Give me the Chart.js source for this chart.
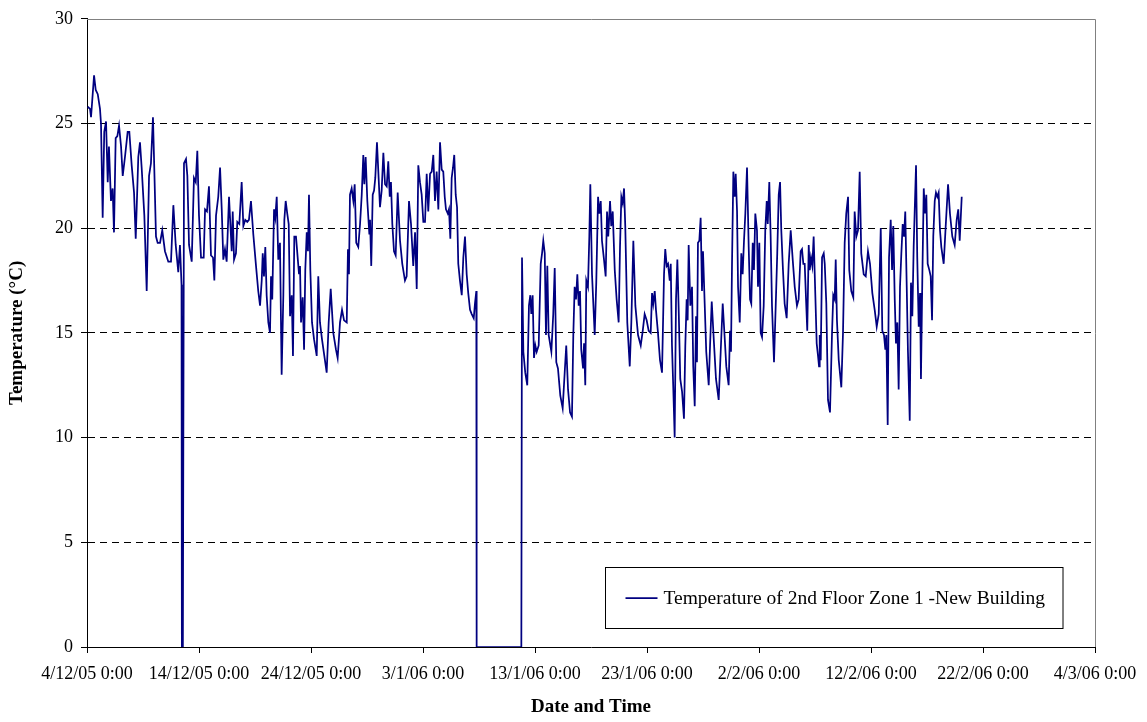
<!DOCTYPE html>
<html>
<head>
<meta charset="utf-8">
<title>Temperature of 2nd Floor Zone 1</title>
<script src="https://cdn.jsdelivr.net/npm/chart.js@4/dist/chart.umd.min.js"></script>
<style>
  html, body { margin: 0; padding: 0; background: #fff; }
  #wrap { width: 1147px; height: 722px; }
</style>
</head>
<body>
<div id="wrap"><canvas id="myChart" width="1147" height="722"></canvas></div>
<script>
/// Data

// x tick labels, one every 10 days from 4/12/05 0:00
const xTickLabels = [
  "4/12/05 0:00",
  "14/12/05 0:00",
  "24/12/05 0:00",
  "3/1/06 0:00",
  "13/1/06 0:00",
  "23/1/06 0:00",
  "2/2/06 0:00",
  "12/2/06 0:00",
  "22/2/06 0:00",
  "4/3/06 0:00",
];

const seriesLabel = "Temperature of 2nd Floor Zone 1 -New Building";

// days since 4/12/05 0:00
const days = [
  0.06, 0.27, 0.36, 0.63, 0.78, 0.96, 1.16, 1.25, 1.40, 1.54,
  1.70, 1.85, 1.96, 2.14, 2.29, 2.41, 2.56, 2.71, 2.86, 3.04,
  3.19, 3.39, 3.63, 3.78, 3.99, 4.20, 4.35, 4.58, 4.73, 4.88,
  5.12, 5.33, 5.54, 5.71, 5.89, 6.01, 6.16, 6.31, 6.52, 6.72,
  6.96, 7.26, 7.50, 7.71, 7.92, 8.15, 8.30, 8.44, 8.47, 8.56,
  8.66, 8.84, 8.96, 9.11, 9.35, 9.55, 9.71, 9.85, 10.00, 10.18,
  10.42, 10.54, 10.71, 10.89, 11.07, 11.25, 11.37, 11.52, 11.72, 11.88,
  12.03, 12.17, 12.32, 12.47, 12.68, 12.92, 13.01, 13.13, 13.30, 13.42,
  13.60, 13.81, 13.96, 14.13, 14.31, 14.46, 14.64, 14.85, 15.09, 15.29,
  15.45, 15.60, 15.69, 15.80, 15.92, 16.04, 16.19, 16.34, 16.43, 16.54,
  16.70, 16.81, 16.94, 17.08, 17.23, 17.38, 17.53, 17.62, 17.74, 17.88,
  18.01, 18.13, 18.28, 18.39, 18.51, 18.66, 18.78, 18.93, 19.02, 19.11,
  19.26, 19.38, 19.49, 19.62, 19.73, 19.82, 19.94, 20.09, 20.27, 20.51,
  20.65, 20.80, 20.98, 21.19, 21.40, 21.58, 21.76, 21.99, 22.23, 22.38,
  22.59, 22.77, 22.95, 23.19, 23.30, 23.39, 23.48, 23.63, 23.78, 23.90,
  24.04, 24.22, 24.38, 24.53, 24.67, 24.76, 24.88, 25.03, 25.21, 25.27,
  25.38, 25.51, 25.63, 25.74, 25.89, 26.16, 26.31, 26.46, 26.61, 26.76,
  26.90, 27.03, 27.14, 27.26, 27.41, 27.56, 27.74, 27.95, 28.15, 28.39,
  28.54, 28.75, 28.93, 29.13, 29.29, 29.44, 29.58, 29.73, 29.88, 30.03,
  30.18, 30.33, 30.47, 30.63, 30.78, 30.92, 31.07, 31.22, 31.37, 31.52,
  31.67, 31.81, 31.94, 32.05, 32.21, 32.32, 32.44, 32.56, 32.68, 32.79,
  32.92, 33.04, 33.15, 33.30, 33.46, 33.60, 33.75, 33.90, 34.04, 34.20,
  34.35, 34.53, 34.64, 34.76, 34.79, 38.78, 38.84, 38.96, 39.13, 39.31,
  39.46, 39.58, 39.67, 39.79, 39.91, 40.03, 40.15, 40.33, 40.51, 40.63,
  40.74, 40.87, 40.98, 41.10, 41.22, 41.46, 41.63, 41.76, 41.90, 42.05,
  42.26, 42.47, 42.65, 42.79, 42.95, 43.13, 43.30, 43.42, 43.54, 43.66,
  43.78, 43.90, 44.02, 44.13, 44.29, 44.38, 44.49, 44.58, 44.73, 44.85,
  44.94, 45.09, 45.33, 45.47, 45.63, 45.74, 45.87, 45.98, 46.16, 46.31,
  46.43, 46.54, 46.70, 46.81, 46.94, 47.12, 47.29, 47.47, 47.59, 47.71,
  47.83, 47.95, 48.06, 48.24, 48.46, 48.60, 48.78, 48.96, 49.20, 49.44,
  49.62, 49.79, 49.97, 50.15, 50.33, 50.45, 50.56, 50.69, 50.80, 50.98,
  51.16, 51.34, 51.52, 51.63, 51.76, 51.88, 52.03, 52.12, 52.23, 52.35,
  52.47, 52.59, 52.71, 52.83, 52.97, 53.13, 53.30, 53.42, 53.54, 53.63,
  53.72, 53.87, 54.02, 54.13, 54.26, 54.38, 54.46, 54.55, 54.67, 54.79,
  54.91, 55.00, 55.15, 55.29, 55.51, 55.63, 55.78, 55.96, 56.16, 56.40,
  56.58, 56.76, 56.90, 57.08, 57.29, 57.41, 57.50, 57.59, 57.71, 57.83,
  57.92, 58.04, 58.13, 58.28, 58.42, 58.54, 58.66, 58.78, 58.93, 59.08,
  59.20, 59.31, 59.44, 59.55, 59.67, 59.82, 59.91, 60.03, 60.15, 60.27,
  60.42, 60.56, 60.69, 60.78, 60.92, 61.04, 61.16, 61.34, 61.52, 61.63,
  61.76, 61.88, 61.99, 62.14, 62.29, 62.47, 62.65, 62.83, 63.01, 63.19,
  63.39, 63.54, 63.72, 63.84, 63.96, 64.08, 64.20, 64.31, 64.44, 64.53,
  64.64, 64.76, 64.88, 65.03, 65.15, 65.27, 65.36, 65.42, 65.51, 65.63,
  65.78, 65.87, 66.01, 66.16, 66.34, 66.52, 66.63, 66.76, 66.85, 66.96,
  67.12, 67.35, 67.50, 67.65, 67.79, 67.95, 68.06, 68.24, 68.42, 68.54,
  68.69, 68.84, 68.99, 69.13, 69.35, 69.53, 69.73, 69.91, 70.12, 70.33,
  70.51, 70.69, 70.87, 71.01, 71.16, 71.28, 71.37, 71.49, 71.61, 71.76,
  71.88, 71.99, 72.12, 72.23, 72.35, 72.47, 72.59, 72.71, 72.83, 72.95,
  73.06, 73.19, 73.30, 73.46, 73.57, 73.69, 73.81, 73.90, 74.02, 74.13,
  74.26, 74.38, 74.46, 74.58, 74.71, 74.82, 74.94, 75.06, 75.21, 75.33,
  75.45, 75.56, 75.69, 75.80, 75.92, 76.04, 76.16, 76.28, 76.49, 76.67,
  76.88, 77.05, 77.26, 77.47, 77.65, 77.79, 77.92, 78.10,
];

// temperature (oC), same order as days
const temps = [
  25.8, 25.7, 25.3, 27.3, 26.6, 26.4, 25.7, 25.0, 20.5, 24.6,
  25.1, 22.2, 23.9, 21.3, 21.9, 19.8, 24.3, 24.4, 24.9, 23.9,
  22.5, 23.4, 24.6, 24.6, 23.0, 21.7, 19.5, 23.4, 24.1, 22.9,
  20.6, 17.0, 22.5, 23.1, 25.3, 22.8, 19.6, 19.3, 19.3, 19.9,
  18.9, 18.4, 18.4, 21.1, 19.2, 17.9, 19.2, 17.3, 0, 0,
  23.1, 23.3, 22.5, 19.2, 18.4, 22.4, 22.2, 23.7, 20.6, 18.6,
  18.6, 20.9, 20.8, 22.0, 18.7, 18.6, 17.5, 20.6, 21.5, 22.9,
  20.9, 18.5, 19.0, 18.4, 21.5, 18.9, 20.8, 18.5, 18.8, 20.3,
  20.2, 22.2, 20.1, 20.4, 20.3, 20.4, 21.3, 19.7, 18.2, 17.0,
  16.3, 17.5, 18.8, 17.7, 19.1, 16.8, 15.5, 15.0, 17.7, 16.6,
  20.9, 20.5, 21.5, 18.5, 19.3, 13.0, 16.8, 20.4, 21.3, 20.7,
  20.2, 15.8, 16.8, 13.9, 19.6, 19.6, 18.8, 17.8, 18.2, 15.5,
  16.7, 14.2, 18.0, 19.8, 18.9, 21.6, 18.0, 15.5, 14.7, 13.9,
  17.7, 15.5, 14.7, 13.9, 13.1, 15.5, 17.1, 15.0, 14.2, 13.8,
  15.5, 16.1, 15.6, 15.5, 19.0, 17.8, 21.6, 21.9, 21.3, 22.1,
  19.3, 19.1, 20.2, 21.6, 23.5, 22.1, 23.4, 21.3, 19.7, 20.4,
  18.2, 21.6, 21.8, 22.4, 24.1, 21.0, 21.8, 23.6, 22.1, 22.0,
  23.2, 21.5, 22.2, 20.2, 18.9, 18.7, 21.7, 19.4, 18.3, 17.5,
  17.7, 21.3, 20.2, 18.2, 19.8, 17.1, 23.0, 22.2, 21.6, 20.3,
  20.3, 22.6, 20.8, 22.6, 22.7, 23.5, 21.3, 22.7, 20.9, 24.1,
  22.8, 22.7, 21.5, 20.9, 20.7, 20.9, 19.5, 22.4, 22.9, 23.5,
  21.6, 21.0, 18.3, 17.5, 16.8, 18.6, 19.6, 17.8, 16.9, 16.1,
  15.9, 15.7, 16.4, 17.0, 0, 0, 18.6, 14.1, 13.1, 12.5,
  16.3, 16.8, 15.9, 16.8, 13.8, 14.4, 14.1, 14.4, 18.3, 18.8,
  19.4, 18.8, 14.9, 18.2, 14.9, 14.1, 15.9, 18.1, 13.6, 13.3,
  12.0, 11.4, 13.1, 14.4, 12.3, 11.2, 11.0, 14.9, 17.2, 16.6,
  17.8, 16.3, 17.0, 14.2, 13.3, 14.5, 12.5, 17.5, 17.2, 19.6,
  22.1, 17.8, 14.9, 17.4, 21.5, 20.7, 21.3, 19.4, 18.5, 17.7,
  20.8, 19.6, 21.3, 20.1, 20.8, 18.0, 16.6, 15.5, 19.1, 21.5,
  21.2, 21.9, 20.1, 15.5, 13.4, 15.5, 19.4, 16.3, 14.9, 14.4,
  15.1, 15.9, 15.6, 15.1, 15.0, 16.9, 16.4, 17.0, 16.1, 15.0,
  13.7, 13.1, 17.8, 19.0, 18.2, 18.3, 17.5, 18.3, 14.4, 12.3,
  10.0, 16.6, 18.5, 16.1, 12.8, 12.2, 10.9, 14.4, 16.6, 15.6,
  19.2, 16.3, 17.2, 13.4, 11.5, 15.8, 13.6, 19.3, 19.4, 20.5,
  17.0, 18.9, 16.4, 14.1, 12.5, 14.4, 16.5, 14.7, 12.8, 11.8,
  14.1, 16.4, 15.1, 13.4, 12.5, 15.1, 14.1, 18.3, 22.7, 21.5,
  22.6, 20.8, 17.2, 15.5, 18.8, 17.8, 19.4, 20.7, 22.9, 19.1,
  16.6, 16.4, 19.3, 18.0, 20.7, 19.9, 17.2, 19.3, 15.0, 14.8,
  16.3, 19.9, 21.3, 20.2, 22.2, 19.6, 16.3, 13.6, 16.8, 18.8,
  21.6, 22.2, 19.9, 18.0, 16.4, 15.7, 18.3, 19.9, 18.5, 17.2,
  16.3, 16.6, 18.9, 19.0, 18.3, 18.3, 16.6, 15.1, 19.2, 18.0,
  18.6, 18.2, 19.6, 16.8, 14.5, 13.9, 13.4, 14.9, 13.7, 18.6,
  18.8, 18.3, 16.4, 11.8, 11.2, 15.0, 16.8, 16.6, 18.5, 15.6,
  13.7, 12.4, 15.0, 19.3, 20.7, 21.5, 18.0, 17.0, 16.7, 20.8,
  19.6, 19.9, 22.7, 18.8, 17.8, 17.7, 18.9, 18.3, 16.9, 16.1,
  15.3, 15.9, 20.0, 15.1, 14.9, 14.2, 14.9, 10.6, 18.6, 20.4,
  18.0, 20.1, 16.6, 14.5, 15.5, 12.3, 17.2, 18.8, 20.2, 19.6,
  20.8, 17.2, 14.1, 10.8, 17.4, 15.8, 19.1, 20.8, 23.0, 18.6,
  15.3, 16.9, 12.8, 17.5, 21.9, 20.7, 21.6, 18.3, 18.0, 17.7,
  15.6, 19.6, 21.3, 21.7, 21.5, 21.7, 19.9, 19.1, 18.3, 20.1,
  22.1, 20.7, 19.6, 19.2, 20.4, 20.9, 19.4, 21.5,
];

if (days.length !== temps.length) {
  console.error("days/temps length mismatch", days.length, temps.length);
}

const points = days.map((d, i) => ({ x: d, y: temps[i] }));

const serif = "'Liberation Serif', 'Times New Roman', serif";
const lineColor = "#000080";

// grey frame on top + right, legend box inside plot
const framePlugin = {
  id: "frame",
  beforeDatasetsDraw(chart) {
    const { ctx, chartArea: a } = chart;
    ctx.save();
    ctx.strokeStyle = "#808080";
    ctx.lineWidth = 1;
    ctx.beginPath();
    ctx.moveTo(a.left, Math.round(a.top) + 0.5);
    ctx.lineTo(Math.round(a.right) + 0.5, Math.round(a.top) + 0.5);
    ctx.lineTo(Math.round(a.right) + 0.5, a.bottom);
    ctx.stroke();
    ctx.restore();
  },
  afterDraw(chart) {
    const { ctx, chartArea: a } = chart;
    const left = Math.round(a.left + 518) + 0.5;
    const top = Math.round(a.bottom - 80) + 0.5;
    const h = 61;
    ctx.save();
    ctx.font = "19.5px " + serif;
    const tw = ctx.measureText(seriesLabel).width;
    const w = 20 + 32 + 6 + tw + 18;
    ctx.fillStyle = "#fff";
    ctx.fillRect(left, top, w, h);
    ctx.strokeStyle = "#000";
    ctx.lineWidth = 1;
    ctx.strokeRect(left, top, w, h);
    const cy = top + h / 2;
    ctx.strokeStyle = lineColor;
    ctx.lineWidth = 1.75;
    ctx.beginPath();
    ctx.moveTo(left + 20, cy);
    ctx.lineTo(left + 52, cy);
    ctx.stroke();
    ctx.fillStyle = "#000";
    ctx.textBaseline = "middle";
    ctx.textAlign = "left";
    ctx.fillText(seriesLabel, left + 58, cy + 1);
    ctx.restore();
  },
};

const data = {
  datasets: [
    {
      label: seriesLabel,
      data: points,
      borderColor: lineColor,
      backgroundColor: lineColor,
      borderWidth: 1.75,
      pointRadius: 0,
      tension: 0,
      fill: false,
    },
  ],
};

const config = {
  type: "line",
  data: data,
  plugins: [framePlugin],
  options: {
    responsive: false,
    animation: false,
    devicePixelRatio: 1,
    layout: { padding: { top: 13, right: 52, bottom: 4, left: 0 } },
    plugins: {
      legend: { display: false },
      tooltip: { enabled: false },
    },
    scales: {
      x: {
        type: "linear",
        min: 0,
        max: 90,
        afterFit: (scale) => {
          scale.height = 71;
        },
        ticks: {
          stepSize: 10,
          autoSkip: false,
          maxRotation: 0,
          padding: 10,
          color: "#000",
          font: { family: serif, size: 18 },
          callback: (v) => xTickLabels[Math.round(v / 10)],
        },
        grid: {
          drawOnChartArea: false,
          drawTicks: true,
          tickLength: 6,
          tickColor: "#000",
          tickBorderDash: [],
        },
        border: { display: true, color: "#000", width: 1 },
        title: {
          display: true,
          text: "Date and Time",
          color: "#000",
          font: { family: serif, size: 19, weight: "bold" },
          padding: { top: 0, bottom: 0 },
        },
      },
      y: {
        min: 0,
        max: 30,
        afterFit: (scale) => {
          scale.width = 87;
        },
        ticks: {
          stepSize: 5,
          padding: 8,
          color: "#000",
          font: { family: serif, size: 18 },
        },
        grid: {
          color: (c) =>
            c.tick && (c.tick.value === 0 || c.tick.value === 30)
              ? "rgba(0,0,0,0)"
              : "#000",
          tickColor: "#000",
          tickLength: 6,
          tickBorderDash: [],
        },
        border: { display: true, color: "#000", width: 1, dash: [7, 5] },
        title: {
          display: true,
          text: "Temperature (\u00B0C)",
          color: "#000",
          font: { family: serif, size: 19, weight: "bold" },
          padding: { top: 6, bottom: 0 },
        },
      },
    },
  },
};

var myChart = new Chart(document.getElementById("myChart"), config);
</script>
</body>
</html>
